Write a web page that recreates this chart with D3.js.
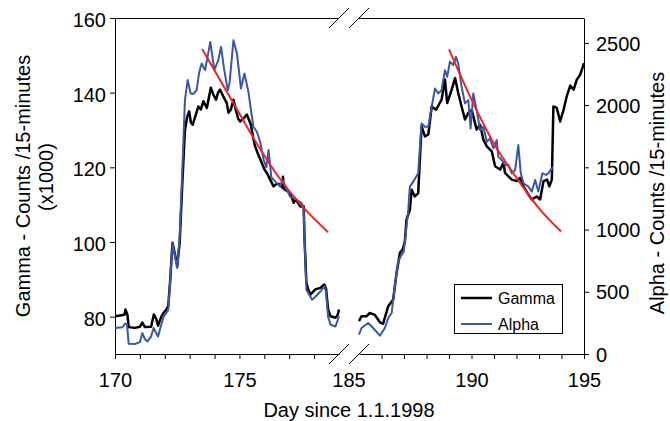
<!DOCTYPE html>
<html>
<head>
<meta charset="utf-8">
<script src="https://cdn.jsdelivr.net/npm/d3@7"></script>
<style>
  body { margin: 0; background: #fff; }
  svg text { font-family: "Liberation Sans", Arial, sans-serif; fill: #000; }
</style>
</head>
<body>
<svg id="chart" width="670" height="421"></svg>
<script>
/* ──── data: [day, value] ──── */
const gammaA = [   // gamma, counts/15 min (x1000), days 170-179
  [170.00, 80.1], [170.20, 80.3], [170.38, 80.5], [170.42, 81.9], [170.50, 80.5],
  [170.55, 77.2], [170.80, 77.0], [171.00, 77.3], [171.10, 78.4], [171.20, 77.2],
  [171.45, 77.3], [171.56, 80.6], [171.65, 79.5], [171.73, 77.6], [171.85, 79.8],
  [171.94, 80.9], [172.05, 81.8], [172.14, 82.8], [172.22, 90.0], [172.31, 99.8],
  [172.40, 97.0], [172.50, 93.5], [172.60, 100.0], [172.70, 115.0], [172.81, 130.0],
  [172.90, 133.5], [172.98, 135.0], [173.05, 132.0], [173.12, 131.4], [173.22, 133.5],
  [173.35, 136.3], [173.45, 135.5], [173.55, 137.7], [173.69, 135.9], [173.78, 139.0],
  [173.85, 141.3], [173.95, 139.5], [174.06, 138.1], [174.14, 140.0], [174.22, 140.8],
  [174.35, 139.0], [174.49, 137.2], [174.56, 134.6], [174.65, 135.4], [174.76, 138.1],
  [174.85, 135.5], [174.95, 133.0], [175.03, 132.3], [175.15, 133.0], [175.30, 134.1],
  [175.46, 131.4], [175.55, 128.0], [175.63, 125.6], [175.75, 123.5], [175.84, 122.1],
  [176.00, 119.5], [176.10, 118.5], [176.25, 116.5], [176.37, 114.9], [176.50, 115.6],
  [176.64, 115.4], [176.72, 114.6], [176.75, 117.5], [176.78, 114.2], [176.84, 114.0],
  [177.04, 113.1], [177.18, 110.5], [177.25, 111.5], [177.32, 110.8], [177.45, 109.5],
  [177.58, 109.6], [177.62, 100.0], [177.69, 89.0], [177.78, 87.0], [177.85, 85.9],
  [178.05, 87.3], [178.25, 87.7], [178.41, 88.6], [178.48, 87.5], [178.56, 82.0],
  [178.66, 80.1], [178.86, 79.7], [178.95, 80.5], [179.00, 81.9]
];
const gammaB = [   // gamma, days 185-195
  [185.00, 78.8], [185.11, 80.1], [185.33, 80.1], [185.48, 81.0], [185.70, 80.5],
  [185.93, 78.5], [186.07, 78.1], [186.30, 82.8], [186.52, 84.6], [186.67, 91.7],
  [186.82, 97.1], [186.94, 98.0], [187.04, 100.2], [187.11, 106.0], [187.26, 108.6],
  [187.34, 114.0], [187.48, 112.2], [187.63, 113.1], [187.78, 131.0], [187.93, 128.3],
  [188.08, 128.8], [188.23, 136.3], [188.42, 135.4], [188.67, 138.1], [188.82, 143.5],
  [188.92, 137.2], [189.12, 140.8], [189.27, 143.9], [189.41, 139.9], [189.56, 136.3],
  [189.71, 132.8], [189.86, 134.6], [190.01, 135.4], [190.23, 130.1], [190.38, 131.4],
  [190.53, 127.4], [190.68, 125.6], [190.90, 124.3], [191.05, 120.3], [191.27, 119.4],
  [191.42, 121.2], [191.49, 118.5], [191.64, 117.6], [191.79, 116.7], [192.01, 116.3],
  [192.16, 117.2], [192.31, 114.9], [192.53, 112.7], [192.68, 111.4], [192.90, 112.2],
  [193.05, 111.4], [193.20, 116.3], [193.36, 116.7], [193.46, 114.9], [193.57, 116.7],
  [193.64, 136.3], [193.79, 135.9], [193.94, 132.3], [194.09, 135.4], [194.24, 139.2],
  [194.39, 141.9], [194.54, 140.8], [194.68, 143.5], [194.83, 144.8], [195.00, 147.9]
];
const alphaA = [   // alpha, counts/15 min, days 170-179
  [170.00, 209], [170.30, 215], [170.40, 243], [170.48, 240], [170.55, 83],
  [170.80, 80], [171.00, 95], [171.10, 168], [171.20, 120], [171.30, 101],
  [171.45, 140], [171.55, 209], [171.65, 170], [171.73, 141], [171.85, 230],
  [171.96, 302], [172.14, 355], [172.22, 600], [172.31, 890], [172.40, 800],
  [172.50, 690], [172.60, 950], [172.70, 1450], [172.81, 2040], [172.92, 2201],
  [173.04, 2094], [173.15, 2090], [173.28, 2120], [173.38, 2260], [173.48, 2335],
  [173.62, 2281], [173.83, 2508], [173.99, 2281], [174.15, 2361], [174.26, 2468],
  [174.39, 2281], [174.53, 2120], [174.60, 2174], [174.76, 2522], [174.90, 2415],
  [175.06, 2134], [175.20, 2254], [175.36, 2107], [175.56, 1826], [175.70, 1786],
  [175.84, 1700], [175.97, 1560], [176.08, 1500], [176.17, 1640], [176.28, 1420],
  [176.44, 1385], [176.64, 1345], [176.72, 1398], [177.04, 1264], [177.31, 1238],
  [177.50, 1212], [177.58, 1171], [177.62, 900], [177.69, 516], [177.92, 436],
  [178.10, 470], [178.25, 502], [178.41, 543], [178.48, 500], [178.56, 300],
  [178.66, 235], [178.86, 221], [179.00, 302]
];
const alphaB = [   // alpha, days 185-193.6
  [185.00, 155], [185.11, 209], [185.41, 249], [185.63, 209], [185.93, 147],
  [186.15, 209], [186.30, 289], [186.45, 329], [186.59, 543], [186.74, 743],
  [186.89, 797], [186.99, 823], [187.11, 1024], [187.19, 1156], [187.26, 1345],
  [187.41, 1385], [187.63, 1452], [187.78, 1853], [187.93, 1826], [188.08, 1826],
  [188.23, 1987], [188.38, 2134], [188.52, 2094], [188.67, 2120], [188.82, 2281],
  [188.92, 2227], [189.04, 2348], [189.19, 2321], [189.31, 2388], [189.41, 2335],
  [189.56, 2147], [189.71, 2014], [189.86, 2040], [189.96, 1813], [190.08, 2094],
  [190.23, 1960], [190.38, 1800], [190.53, 1826], [190.68, 1706], [190.82, 1733],
  [190.97, 1653], [191.12, 1719], [191.19, 1585], [191.34, 1559], [191.49, 1519],
  [191.64, 1519], [191.79, 1452], [191.94, 1479], [192.08, 1679], [192.19, 1452],
  [192.31, 1372], [192.53, 1345], [192.68, 1305], [192.83, 1398], [192.97, 1305],
  [193.15, 1452], [193.32, 1439], [193.42, 1452], [193.57, 1492], [193.62, 1500]
];
const fitA = [[173.5, 2450], [174.76, 2014], [175.7, 1690], [176.64, 1404], [177.6, 1170], [178.56, 979]];
const fitB = [[189.0, 2448], [190.08, 2014], [191.0, 1690], [192.01, 1413], [193.0, 1170], [193.98, 984]];

/* ──── ticks & labels ──── */
const daysA       = [170, 179];
const daysB       = [185, 195];
const dayTicksA   = d3.range(170, 179);
const dayTicksB   = d3.range(186, 196);
const dayLabels   = [170, 175, 190, 195];
const breakLabel  = '185';
const gammaTicks  = [80, 100, 120, 140, 160];
const alphaTicks  = [0, 500, 1000, 1500, 2000, 2500];
const seriesNames = ['Gamma', 'Alpha'];

/* ──── layout ──── */
const box = { left: 115, right: 584, top: 18, bottom: 354 };
const svg = d3.select('#chart');

const xA = d3.scaleLinear().domain(daysA).range([box.left, 339]);
const xB = d3.scaleLinear().domain(daysB).range([359, box.right]);
const yG = d3.scaleLinear().domain([70, 160]).range([box.bottom, box.top]);
const yA = d3.scaleLinear().domain([0, 2700]).range([box.bottom, box.top]);

const colors = { Gamma: '#000', Alpha: '#3a56a8', fit: '#f02424' };

/* ──── axes ──── */
function styleAxis (g) {
  g.selectAll('path, line').attr('stroke', '#000').attr('stroke-width', 1);
  g.selectAll('text').style('font-size', '20px').attr('fill', '#000');
}

svg.append('g')
   .attr('transform', `translate(${box.left},0)`)
   .call(d3.axisLeft(yG).tickValues(gammaTicks).tickFormat(d3.format('d'))
           .tickSize(5).tickSizeOuter(0).tickPadding(4))
   .call(styleAxis)
   .selectAll('text').attr('dy', '0.42em');

svg.append('g')
   .attr('transform', `translate(${box.right},0)`)
   .call(d3.axisRight(yA).tickValues(alphaTicks).tickFormat(d3.format('d'))
           .tickSize(5).tickSizeOuter(0).tickPadding(7))
   .call(styleAxis)
   .selectAll('text').attr('dy', '0.36em');

const fmtDay = d => dayLabels.includes(d) ? d : '';
[[xA, dayTicksA], [xB, dayTicksB]].forEach(([sc, tv]) => {
  svg.append('g')
     .attr('transform', `translate(0,${box.bottom})`)
     .call(d3.axisBottom(sc).tickValues(tv).tickFormat(fmtDay)
             .tickSize(5).tickSizeOuter(0).tickPadding(14))
     .call(styleAxis);
  // top frame line for each segment
  svg.append('line')
     .attr('x1', sc.range()[0]).attr('x2', sc.range()[1])
     .attr('y1', box.top + 0.5).attr('y2', box.top + 0.5)
     .attr('stroke', '#000');
});

/* break label and slashes */
svg.append('text')
   .attr('x', (xA(daysA[1]) + xB(daysB[0])) / 2)
   .attr('y', box.bottom + 19).attr('dy', '0.71em')
   .attr('text-anchor', 'middle')
   .style('font-size', '20px')
   .text(breakLabel);

[box.top, box.bottom].forEach(y => {
  [xA(daysA[1]), xB(daysB[0])].forEach(x => {
    svg.append('line')
       .attr('x1', x - 10).attr('y1', y + 10)
       .attr('x2', x + 10).attr('y2', y - 10)
       .attr('stroke', '#000').attr('stroke-width', 1);
  });
});

/* ──── axis titles ──── */
svg.append('text')
   .attr('transform', 'translate(30,186) rotate(-90)')
   .attr('text-anchor', 'middle').style('font-size', '20px')
   .text('Gamma - Counts /15-minutes');
svg.append('text')
   .attr('transform', 'translate(53,177) rotate(-90)')
   .attr('text-anchor', 'middle').style('font-size', '20px')
   .text('(x1000)');
svg.append('text')
   .attr('transform', 'translate(664,193) rotate(-90)')
   .attr('text-anchor', 'middle').style('font-size', '20px')
   .text('Alpha - Counts /15-minutes');
svg.append('text')
   .attr('x', 349).attr('y', 417)
   .attr('text-anchor', 'middle').style('font-size', '20px')
   .text('Day since 1.1.1998');

/* ──── series ──── */
const lineOf = (sx, sy) => d3.line().x(d => sx(d[0])).y(d => sy(d[1]));

const series = [
  { d: gammaA, sx: xA, sy: yG, c: colors.Gamma, w: 2.5 },
  { d: gammaB, sx: xB, sy: yG, c: colors.Gamma, w: 2.5 },
  { d: alphaA, sx: xA, sy: yA, c: colors.Alpha, w: 2 },
  { d: alphaB, sx: xB, sy: yA, c: colors.Alpha, w: 2 }
];
series.forEach(s => {
  svg.append('path')
     .datum(s.d)
     .attr('d', lineOf(s.sx, s.sy))
     .attr('fill', 'none')
     .attr('stroke', s.c)
     .attr('stroke-width', s.w)
     .attr('stroke-linejoin', 'round');
});

[[fitA, xA], [fitB, xB]].forEach(([d, sx]) => {
  svg.append('path')
     .datum(d)
     .attr('d', lineOf(sx, yA).curve(d3.curveMonotoneX))
     .attr('fill', 'none')
     .attr('stroke', colors.fit)
     .attr('stroke-width', 2);
});

/* ──── legend ──── */
const lg = svg.append('g').attr('transform', 'translate(454,284)');
lg.append('rect')
  .attr('x', 0.5).attr('y', 0.5).attr('width', 108).attr('height', 49)
  .attr('fill', '#fff').attr('stroke', '#000');
seriesNames.forEach((name, i) => {
  const y = 14 + i * 26;
  lg.append('line')
    .attr('x1', 7).attr('x2', 38).attr('y1', y).attr('y2', y)
    .attr('stroke', colors[name]).attr('stroke-width', i ? 2 : 2.5);
  lg.append('text')
    .attr('x', 44).attr('y', y + 5.5)
    .style('font-size', '16px')
    .text(name);
});
</script>
</body>
</html>
